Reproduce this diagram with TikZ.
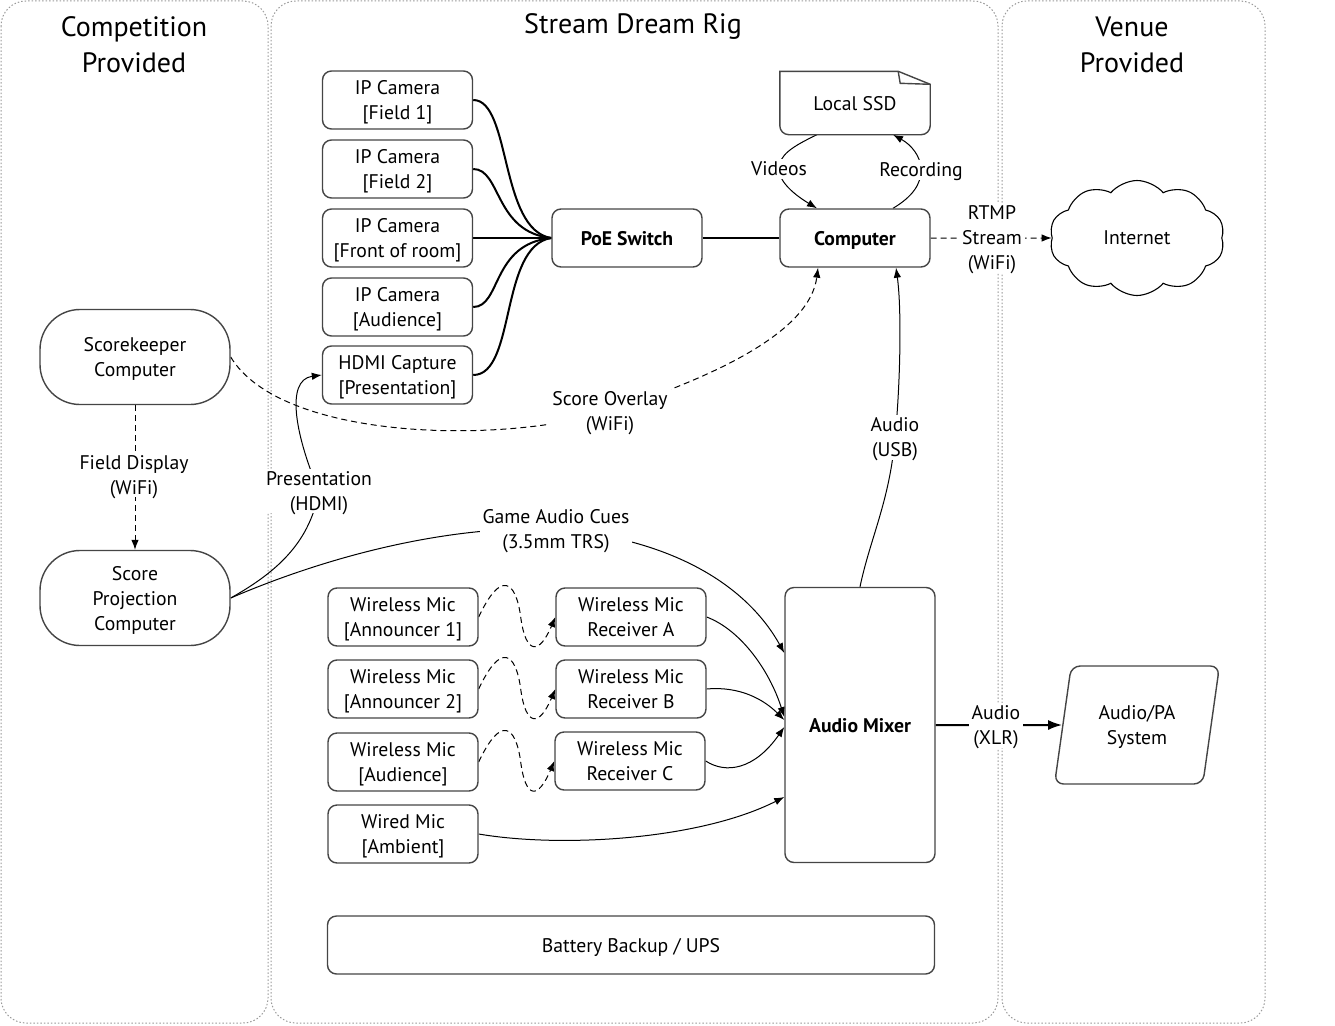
\documentclass[tikz,border=0pt]{standalone}
\usepackage{fontspec}
\setmainfont{PT Sans}
\usetikzlibrary{shapes.geometric,shapes.symbols,arrows.meta,calc,backgrounds}
\definecolor{boxgray}{HTML}{454545}
\definecolor{contgray}{HTML}{9A9A9A}
\begin{document}
\begin{tikzpicture}[x=1pt,y=-1pt,
  every node/.style={font=\fontsize{19.7}{25}\selectfont},
  box/.style={draw=boxgray, line width=1.4pt, rounded corners=9pt, fill=white, align=center,
    minimum width=150pt, minimum height=58pt, inner sep=2pt, text depth=0pt},
  stadium/.style={box, rounded corners=40pt, minimum width=190pt, minimum height=95pt},
  boldbox/.style={box, font=\fontsize{19.7}{25}\selectfont\bfseries},
  lbl/.style={fill=white, align=center, inner sep=3pt, text depth=0pt},
  ttl/.style={align=center, font=\fontsize{28}{36}\selectfont},
  cont/.style={draw=contgray, line width=1pt, dash pattern=on 1.5pt off 2pt, rounded corners=25pt},
  edge/.style={line width=1pt, black},
  dsh/.style={dash pattern=on 6pt off 4pt},
  arr/.style={-{Latex[length=10pt,width=7.5pt]}},
  cam/.style={line width=2pt, black}
]
\useasboundingbox (0,0) rectangle (1335,1025);

% titles
\node[ttl] (tl) at (134,45) {Competition\\Provided};
\node[ttl] (tm) at (633,27) {Stream Dream Rig};
\node[ttl] (tr) at (1132,45) {Venue\\Provided};

% cameras
\node[box] (cam1) at (397.5,100) {IP Camera\\{[Field 1]}};
\node[box] (cam2) at (397.5,169) {IP Camera\\{[Field 2]}};
\node[box] (cam3) at (397.5,238) {IP Camera\\{[Front of room]}};
\node[box] (cam4) at (397.5,307) {IP Camera\\{[Audience]}};
\node[box] (hdmi) at (397.5,375) {HDMI Capture\\{[Presentation]}};

\node[boldbox] (poe) at (627,238) {PoE Switch};
\node[boldbox] (cmp) at (855,238) {Computer};

% local SSD (document shape)
\node[minimum width=150pt, minimum height=63pt, inner sep=0pt] (ssd) at (855,103) {};
\draw[draw=boxgray, line width=1.4pt, fill=white]
  (ssd.north west) -- ($(ssd.south west)+(0,-9)$)
  arc[start angle=180, end angle=270, radius=9pt]
  -- ($(ssd.south east)+(-9,0)$)
  arc[start angle=270, end angle=360, radius=9pt]
  -- ($(ssd.north east)+(0,13)$) -- ($(ssd.north east)+(-32,0)$) -- cycle;
\draw[draw=boxgray, line width=1.4pt] ($(ssd.north east)+(-32,0)$) -- ($(ssd.north east)+(-30,12)$) -- ($(ssd.north east)+(0,13)$);
\node[text depth=0pt] at (ssd.center) {Local SSD};

\node[cloud, cloud puffs=10, cloud puff arc=100, aspect=1.6, draw=black, line width=1.1pt,
  minimum width=175pt, minimum height=115pt, fill=white, text depth=0pt] (inet) at (1137,238) {Internet};

% competition
\node[stadium] (sk) at (135,357) {Scorekeeper\\Computer};
\node[stadium] (spc) at (135,598) {Score\\Projection\\Computer};

% mics
\node[box] (m1) at (403,617) {Wireless Mic\\{[Announcer 1]}};
\node[box] (m2) at (403,689) {Wireless Mic\\{[Announcer 2]}};
\node[box] (m3) at (403,762) {Wireless Mic\\{[Audience]}};
\node[box] (wm) at (403,834) {Wired Mic\\{[Ambient]}};
\node[box] (rA) at (631,617) {Wireless Mic\\Receiver A};
\node[box] (rB) at (631,689) {Wireless Mic\\Receiver B};
\node[box] (rC) at (630,761) {Wireless Mic\\Receiver C};

\node[boldbox, minimum height=275pt] (mix) at (860,725) {Audio Mixer};
\node[trapezium, trapezium left angle=77, trapezium right angle=103, draw=boxgray, line width=1.4pt,
  rounded corners=9pt, fill=white, align=center, minimum width=165pt, minimum height=118pt,
  trapezium stretches=true, text depth=0pt] (pa) at (1137,725) {Audio/PA\\System};

\node[box, minimum width=607pt] (ups) at (631,945) {Battery Backup / UPS};

% labels
\node[lbl] (lvid) at (779,169) {Videos};
\node[lbl] (lrec) at (921,170) {Recording};
\node[lbl] (lrtmp) at (992,238) {RTMP\\Stream\\(WiFi)};
\node[lbl] (lso) at (610,411) {Score Overlay\\(WiFi)};
\node[lbl] (lfd) at (134,475) {Field Display\\(WiFi)};
\node[lbl] (lpres) at (319,491) {Presentation\\(HDMI)};
\node[lbl] (lgac) at (556,529) {Game Audio Cues\\(3.5mm TRS)};
\node[lbl] (lusb) at (895,437) {Audio\\(USB)};
\node[lbl] (lxlr) at (996,725) {Audio\\(XLR)};

\begin{scope}[on background layer]
  % containers
  \draw[cont] (1,1) rectangle (268,1023);
  \draw[cont] (271,1) rectangle (998,1023);
  \draw[cont] (1002,1) rectangle (1265,1023);

  % cameras to switch
  \draw[cam] (cam1.east) .. controls +(38,0) and +(-52,-8) .. (poe.west);
  \draw[cam] (cam2.east) .. controls +(28,0) and +(-57,-6) .. (poe.west);
  \draw[cam] (cam3.east) -- (poe.west);
  \draw[cam] (cam4.east) .. controls +(28,0) and +(-60,6) .. (poe.west);
  \draw[cam] (hdmi.east) .. controls +(43,0) and +(-52,8) .. (poe.west);
  \draw[cam] (poe.east) -- (cmp.west);

  % SSD loops
  \draw[edge,arr] ($(ssd.south)+(-38,0)$) .. controls +(-25,12) and +(0,-14) .. (lvid.center)
     .. controls +(0,14) and +(-20,-12) .. ($(cmp.north)+(-38,0)$);
  \draw[edge,arr] ($(cmp.north)+(38,0)$) .. controls +(20,-12) and +(0,14) .. (lrec.center)
     .. controls +(0,-14) and +(18,10) .. ($(ssd.south)+(38,0)$);

  % stream
  \draw[edge,dsh,arr] (cmp.east) -- (inet);

  % score overlay
  \draw[edge,dsh,arr] (sk.east) .. controls +(50,83) and +(-110,34) .. (lso.center)
     .. controls +(110,-36) and +(-8,63) .. ($(cmp.south)+(-37,0)$);
  % field display
  \draw[edge,dsh,arr] (sk.south) -- (spc.north);
  % presentation
  \draw[edge,arr] (spc.east) .. controls +(50,-28) and +(-9,49) .. (lpres.center)
     .. controls +(-22,-51) and +(-38,5) .. (hdmi.west);
  % game audio cues
  \draw[edge,arr] (spc.east) .. controls +(100,-43) and +(-106,-4) .. (lgac.center)
     .. controls +(124,11) and +(-35,-63) .. ($(mix.west)+(0,-72)$);
  % usb
  \draw[edge,arr] (mix.north) .. controls +(10,-48) and +(-5,63) .. (lusb.center)
     .. controls +(5,-47) and +(6,43) .. ($(cmp.south)+(41,0)$);
  % xlr
  \draw[line width=2pt, -{Latex[length=14pt,width=10pt]}] (mix.east) -- (pa);

  % wireless squiggles
  \draw[edge,dsh,arr] (m1.east) .. controls +(22,-47) and +(-5,-37) .. ($(m1.east)+(42,0)$)
     .. controls +(5,38) and +(-16,38) .. (rA.west);
  \draw[edge,dsh,arr] (m2.east) .. controls +(22,-47) and +(-5,-37) .. ($(m2.east)+(42,0)$)
     .. controls +(5,38) and +(-16,38) .. (rB.west);
  \draw[edge,dsh,arr] (m3.east) .. controls +(22,-47) and +(-5,-37) .. ($(m3.east)+(42,0)$)
     .. controls +(5,38) and +(-16,38) .. (rC.west);

  % receivers to mixer
  \draw[edge,arr] (rA.east) .. controls +(34,13) and +(-15,-47) .. ($(mix.west)+(0,-8)$);
  \draw[edge,arr] (rB.east) .. controls +(34,-3) and +(-20,-20) .. ($(mix.west)+(0,-5)$);
  \draw[edge,arr] (rC.east) .. controls +(20,13) and +(-30,43) .. ($(mix.west)+(0,2)$);
  \draw[edge,arr] (wm.east) .. controls +(82,14) and +(-85,43) .. ($(mix.west)+(0,72)$);
\end{scope}
\end{tikzpicture}
\end{document}
